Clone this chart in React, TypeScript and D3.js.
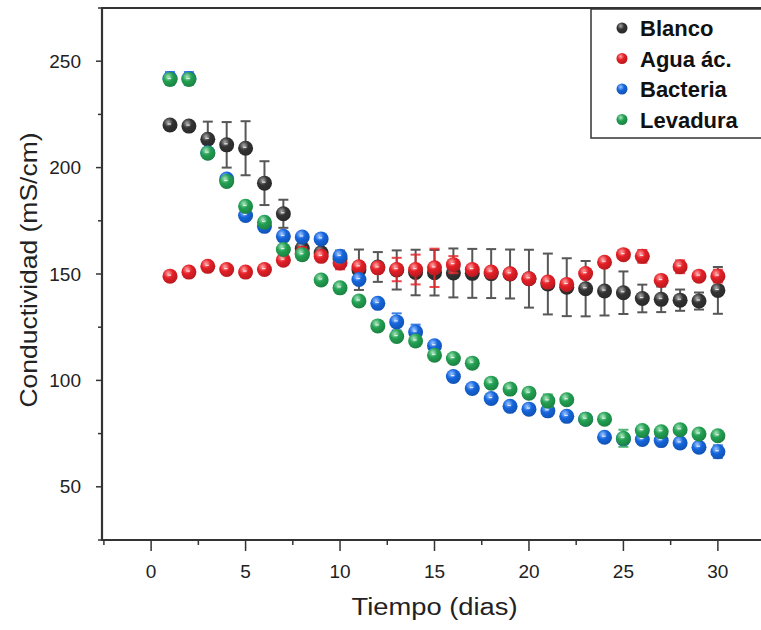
import React, { useRef, useEffect } from "react";
import * as d3 from "d3";

// data
const days = [1, 2, 3, 4, 5, 6, 7, 8, 9, 10, 11, 12, 13, 14, 15, 16, 17, 18, 19, 20, 21, 22, 23, 24, 25, 26, 27, 28, 29, 30];

const blanco = [220, 219.5, 213.3, 210.7, 209.1, 192.7, 178.3, 162, 160, 157, 152, 153.3, 151.9, 150.7, 150.6, 150.5, 150.3, 150.2, 150, 147.8, 145.3, 143.8, 143.1, 142, 141.2, 138.5, 138.1, 137.7, 137.3, 142.3];
const blancoErr = [0, 0, 8.3, 10.7, 12.7, 10.3, 6.6, 3, 2, 4, 9.5, 7, 9.2, 10.7, 10.7, 11.5, 11.5, 11.5, 11.5, 13.6, 14.3, 13.6, 13, 11.5, 10, 6.5, 6, 5, 4, 11];

const agua = [149, 150.9, 153.6, 152.1, 150.9, 152.1, 156.5, 159.6, 158.3, 155.2, 153.4, 152.9, 152.1, 152.1, 152.9, 154.4, 152.1, 150.9, 150.1, 147.8, 146.2, 145.1, 150.2, 155.5, 159.1, 158.3, 147, 153.4, 149, 149];
const aguaErr = [1, 1, 1, 1, 1, 1, 1.5, 3, 1.5, 3, 2, 2, 5.5, 7, 9, 4, 2, 1.5, 1.5, 1.5, 1.5, 1.5, 1.5, 1.5, 1.5, 3, 1.5, 3, 1.5, 3];

const bacteria = [241.9, 241.9, 207, 194.6, 177.5, 172.4, 167.7, 167.4, 166.5, 158.3, 147.4, 136.2, 127.5, 122.7, 116.3, 101.8, 96.2, 91.5, 87.8, 86.5, 85.7, 83.1, 81.8, 73.3, 72.5, 72.2, 71.7, 70.6, 68.6, 66.5];
const bacteriaErr = [3, 3, 1.5, 1.5, 1.5, 1.5, 1.5, 1.5, 1.5, 1.5, 1.5, 1.5, 4, 3.5, 1.5, 1.5, 1.5, 1.5, 1.5, 1.5, 1.5, 1.5, 1.5, 1.5, 1.5, 1.5, 1.5, 1.5, 1.5, 3];

const levadura = [241.4, 241.4, 206.8, 193.5, 181.8, 174.3, 161.5, 159.1, 147.2, 143.5, 137.3, 125.6, 120.6, 118.5, 111.8, 110.3, 108.1, 98.7, 95.9, 94, 90.4, 90.9, 81.8, 81.8, 72.8, 76.4, 75.9, 76.8, 74.8, 74];
const levaduraErr = [1.5, 1.5, 1.5, 1.5, 1.5, 1.5, 1.5, 1.5, 1.5, 1.5, 1.5, 1.5, 1.5, 1.5, 1.5, 1.5, 1.5, 1.5, 1.5, 1.5, 3, 1.5, 1.5, 1.5, 4, 1.5, 1.5, 1.5, 1.5, 1.5];

const seriesNames = ["Blanco", "Agua ác.", "Bacteria", "Levadura"];
const xTicks = [0, 5, 10, 15, 20, 25, 30];
const yTicks = [50, 100, 150, 200, 250];

const palette = [
  { base: "#333333", light: "#a8a8a8", bar: "#3a3a3a" },
  { base: "#e41f26", light: "#ffa3a3", bar: "#e8262b" },
  { base: "#1565dc", light: "#9cc4ff", bar: "#1d6ae0" },
  { base: "#22a052", light: "#a6e3bb", bar: "#2ea85c" },
];

export default function App() {
  const ref = useRef<SVGSVGElement | null>(null);

  useEffect(() => {
    const svg = d3.select(ref.current);
    svg.selectAll("*").remove();

    const W = 761;
    const H = 630;
    const x = d3.scaleLinear().domain([-2.6, 32.6]).range([102, 767]);
    const y = d3.scaleLinear().domain([25, 275]).range([540, 8]);
    const axisColor = "#333";
    const font = "'Liberation Sans', Arial, sans-serif";

    svg.append("rect").attr("width", W).attr("height", H).attr("fill", "#fff");

    const defs = svg.append("defs");
    palette.forEach((p, i) => {
      const g = defs
        .append("radialGradient")
        .attr("id", `ball${i}`)
        .attr("cx", "38%")
        .attr("cy", "32%")
        .attr("r", "70%");
      g.append("stop").attr("offset", "0%").attr("stop-color", p.light);
      g.append("stop").attr("offset", "45%").attr("stop-color", p.base);
      g.append("stop").attr("offset", "100%").attr("stop-color", d3.color(p.base)!.darker(0.6).toString());
    });

    const all = [
      { vals: blanco, err: blancoErr },
      { vals: agua, err: aguaErr },
      { vals: bacteria, err: bacteriaErr },
      { vals: levadura, err: levaduraErr },
    ];

    // series: error bars then balls
    all.forEach((s, i) => {
      const g = svg.append("g");
      const pts = days.map((d, k) => ({ d, v: s.vals[k], e: s.err[k] }));
      const eb = g
        .selectAll("g.eb")
        .data(pts.filter((p) => p.e > 0))
        .enter()
        .append("g")
        .attr("stroke", palette[i].bar)
        .attr("stroke-width", 2)
        .attr("opacity", 0.85);
      eb.append("line")
        .attr("x1", (p) => x(p.d))
        .attr("x2", (p) => x(p.d))
        .attr("y1", (p) => y(p.v + p.e))
        .attr("y2", (p) => y(p.v - p.e));
      [1, -1].forEach((sg) => {
        eb.append("line")
          .attr("x1", (p) => x(p.d) - 5)
          .attr("x2", (p) => x(p.d) + 5)
          .attr("y1", (p) => y(p.v + sg * p.e))
          .attr("y2", (p) => y(p.v + sg * p.e));
      });
      g.selectAll("circle")
        .data(pts)
        .enter()
        .append("circle")
        .attr("cx", (p) => x(p.d))
        .attr("cy", (p) => y(p.v))
        .attr("r", 7.5)
        .attr("fill", `url(#ball${i})`);
      g.selectAll("line.hl")
        .data(pts)
        .enter()
        .append("line")
        .attr("x1", (p) => x(p.d) - 2.5)
        .attr("x2", (p) => x(p.d) + 1)
        .attr("y1", (p) => y(p.v) - 1)
        .attr("y2", (p) => y(p.v) - 1)
        .attr("stroke", "#fff")
        .attr("stroke-opacity", 0.8)
        .attr("stroke-width", 1.2);
    });

    // axes frame
    svg.append("line").attr("x1", 102).attr("x2", 102).attr("y1", 8).attr("y2", 540).attr("stroke", axisColor).attr("stroke-width", 2.2);
    svg.append("line").attr("x1", 101).attr("x2", W).attr("y1", 540).attr("y2", 540).attr("stroke", axisColor).attr("stroke-width", 2.2);
    svg.append("line").attr("x1", 101).attr("x2", W).attr("y1", 8).attr("y2", 8).attr("stroke", axisColor).attr("stroke-width", 2.2);

    // y ticks
    const yMinor = d3.range(25, 276, 25);
    svg.selectAll("line.ym")
      .data(yMinor)
      .enter()
      .append("line")
      .attr("x1", (v) => (v % 50 === 0 ? 96 : 98))
      .attr("x2", 102)
      .attr("y1", (v) => y(v))
      .attr("y2", (v) => y(v))
      .attr("stroke", axisColor)
      .attr("stroke-width", 1.5);
    svg.selectAll("text.yt")
      .data(yTicks)
      .enter()
      .append("text")
      .attr("x", 81)
      .attr("y", (v) => y(v) + 6.5)
      .attr("text-anchor", "end")
      .attr("font-family", font)
      .attr("font-size", 19)
      .attr("fill", "#222")
      .text((v) => v);

    // x ticks
    const xMinor = d3.range(-2.5, 33, 2.5);
    svg.selectAll("line.xm")
      .data(xMinor)
      .enter()
      .append("line")
      .attr("x1", (v) => x(v))
      .attr("x2", (v) => x(v))
      .attr("y1", 540)
      .attr("y2", (v) => (v % 5 === 0 ? 551 : 545))
      .attr("stroke", axisColor)
      .attr("stroke-width", 1.5);
    svg.selectAll("text.xt")
      .data(xTicks)
      .enter()
      .append("text")
      .attr("x", (v) => x(v))
      .attr("y", 578)
      .attr("text-anchor", "middle")
      .attr("font-family", font)
      .attr("font-size", 19)
      .attr("fill", "#222")
      .text((v) => v);

    // titles
    svg.append("text")
      .attr("x", x(15))
      .attr("y", 615)
      .attr("text-anchor", "middle")
      .attr("font-family", font)
      .attr("font-size", 23)
      .attr("fill", "#222")
      .attr("textLength", 166)
      .attr("lengthAdjust", "spacingAndGlyphs")
      .text("Tiempo (dias)");
    svg.append("text")
      .attr("transform", "translate(37,270) rotate(-90)")
      .attr("text-anchor", "middle")
      .attr("font-family", font)
      .attr("font-size", 24)
      .attr("fill", "#222")
      .attr("textLength", 275)
      .attr("lengthAdjust", "spacingAndGlyphs")
      .text("Conductividad (mS/cm)");

    // legend
    const lg = svg.append("g");
    lg.append("rect")
      .attr("x", 591)
      .attr("y", 9)
      .attr("width", 200)
      .attr("height", 129)
      .attr("fill", "#fff")
      .attr("stroke", axisColor)
      .attr("stroke-width", 1.5);
    seriesNames.forEach((n, i) => {
      const cy = 28 + i * 30.5;
      lg.append("circle").attr("cx", 622).attr("cy", cy).attr("r", 5.5).attr("fill", `url(#ball${i})`);
      lg.append("text")
        .attr("x", 640)
        .attr("y", cy + 8)
        .attr("font-family", font)
        .attr("font-size", 22)
        .attr("font-weight", "bold")
        .attr("fill", "#111")
        .text(n);
    });
  }, []);

  return (
    <svg
      ref={ref}
      width={761}
      height={630}
      style={{ position: "absolute", left: 0, top: 0, display: "block" }}
    />
  );
}
